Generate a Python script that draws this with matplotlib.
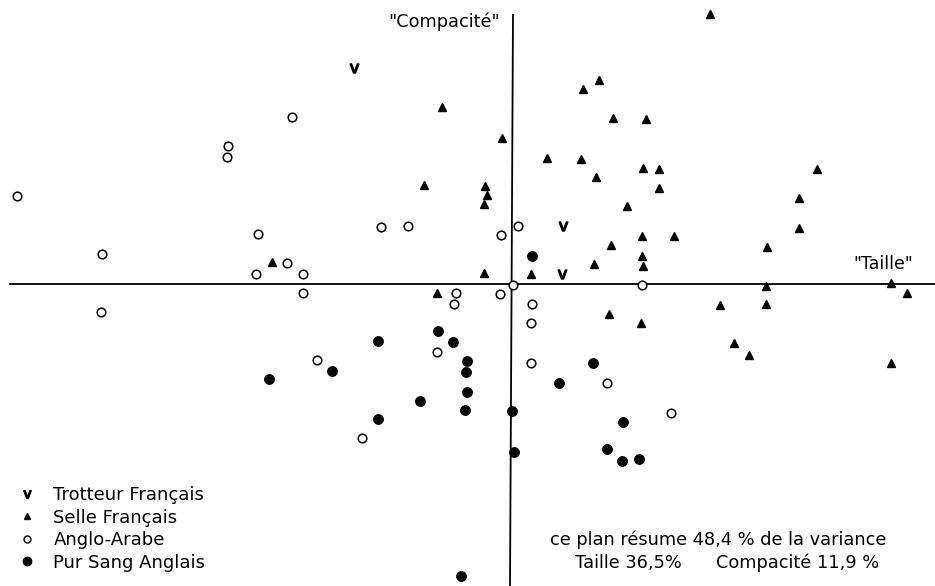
import matplotlib.pyplot as plt
from matplotlib.lines import Line2D

# scores on the two axes ("Taille", "Compacité")
trot_x = [-159, 50, 49]
trot_y = [216, 58, 10]

selle_x = [197, 70, 86, -71, 100, 133, -11, 34, 68, 83, 130, 146, 304, 146,
           -89, -28, -26, -29, 114, 286, 286, 98, 129, 161, 254, 129, 130, 81,
           18, -29, -241, 253, 378, 394, 207, 253, 96, 128, 221, 236, 378, -76]
selle_y = [270, 195, 204, 177, 166, 165, 146, 126, 125, 107, 116, 115, 115, 96,
           99, 98, 89, 80, 78, 86, 56, 39, 48, 48, 37, 28, 18, 20,
           10, 11, 22, -2, 1, -9, -21, -20, -30, -39, -59, -71, -79, -9]

anglo_x = [-221, -285, -286, -496, -255, -411, -226, -257, -210, -132, -105,
           5, -12, 0, 129, -210, -412, -196, -57, -59, -13, 19, 18, 18, -76,
           -151, 94, 158]
anglo_y = [167, 138, 127, 88, 50, 30, 21, 10, 10, 57, 58,
           58, 49, -1, -1, -9, -28, -76, -9, -20, -10, -20, -39, -79, -68,
           -154, -99, -129]

psa_x = [19, -244, -75, -135, -60, -181, -46, -47, -46, -93, -48, -135, -1,
         1, 80, 46, 110, 94, 109, 126, -52]
psa_y = [28, -95, -47, -57, -58, -87, -77, -88, -108, -117, -126, -135, -127,
         -168, -79, -99, -138, -165, -177, -175, -292]

vmark = r'$\mathregular{v}$'

fig = plt.figure(figsize=(9.35, 5.86), dpi=100)
ax = fig.add_axes([0, 0, 1, 1])
ax.set_xlim(-513, 422)
ax.set_ylim(-302, 284)
ax.axis('off')

# axes of the plane
ax.plot([-503, 422], [0, 0], color='black', linewidth=1.3)
ax.plot([0, -3], [269, -302], color='black', linewidth=1.3)

ax.plot(trot_x, trot_y, linestyle='none', marker=vmark, markersize=6.5,
        color='black')
ax.plot(selle_x, selle_y, linestyle='none', marker='^', markersize=5.5,
        color='black')
ax.plot(anglo_x, anglo_y, linestyle='none', marker='o', markersize=6.2,
        markerfacecolor='white', markeredgecolor='black', markeredgewidth=1.1)
ax.plot(psa_x, psa_y, linestyle='none', marker='o', markersize=6.8,
        color='black')

ax.text(-69, 262, '"Compacité"', fontsize=12.8, ha='center', va='center')
ax.text(370, 20, '"Taille"', fontsize=12.5, ha='center', va='center')

ax.text(205, -256, 'ce plan résume 48,4 % de la variance', fontsize=12.8,
        ha='center', va='center')
ax.text(115, -279, 'Taille 36,5%', fontsize=12.8, ha='center', va='center')
ax.text(285, -279, 'Compacité 11,9 %', fontsize=12.8, ha='center',
        va='center')

handles = [
    Line2D([], [], linestyle='none', marker=vmark, markersize=5.5,
           color='black'),
    Line2D([], [], linestyle='none', marker='^', markersize=4.5,
           color='black'),
    Line2D([], [], linestyle='none', marker='o', markersize=5,
           markerfacecolor='white', markeredgecolor='black'),
    Line2D([], [], linestyle='none', marker='o', markersize=6,
           color='black'),
]
labels = ['Trotteur Français', 'Selle Français', 'Anglo-Arabe',
          'Pur Sang Anglais']
ax.legend(handles, labels, loc='lower left', bbox_to_anchor=(0.005, 0.0),
          frameon=False, fontsize=13, handlelength=0.9, handletextpad=1.0,
          labelspacing=0.25, borderpad=0.3)

fig.savefig('out.png', dpi=100)
